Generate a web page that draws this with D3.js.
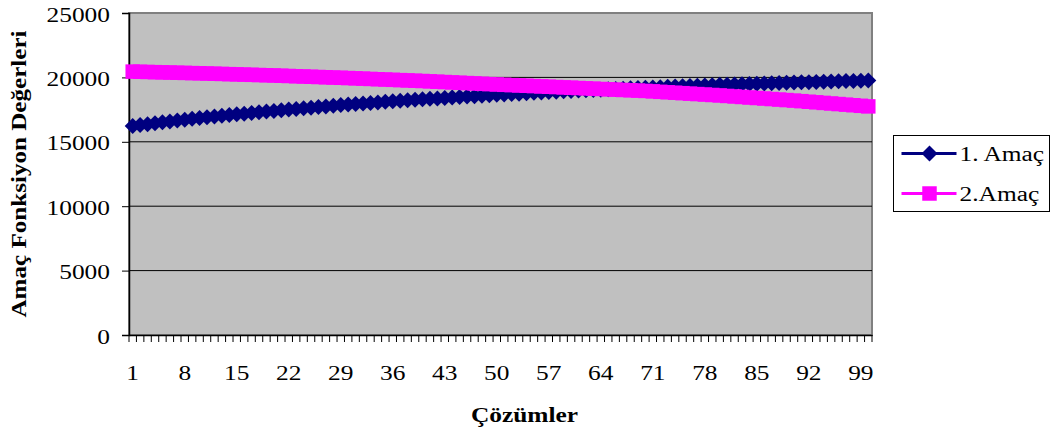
<!DOCTYPE html>
<html>
<head>
<meta charset="utf-8">
<script src="https://cdn.jsdelivr.net/npm/d3@7"></script>
<style>
  body { margin: 0; background: #fff; }
  svg { display: block; }
</style>
</head>
<body>
<div id="chart"></div>
<script>
// solution index 1..100
const categories = d3.range(1, 101);

// 1. Amaç
const amac1 = [
  16220, 16300, 16370, 16440, 16510, 16580, 16650, 16720, 16785, 16850,
  16910, 16965, 17020, 17075, 17130, 17185, 17240, 17295, 17350, 17400,
  17450, 17500, 17550, 17600, 17650, 17700, 17750, 17800, 17850, 17900,
  17940, 17980, 18020, 18060, 18100, 18140, 18180, 18220, 18260, 18300,
  18335, 18370, 18405, 18440, 18475, 18510, 18545, 18580, 18615, 18650,
  18680, 18710, 18740, 18770, 18800, 18830, 18860, 18890, 18920, 18950,
  18975, 19000, 19025, 19050, 19075, 19100, 19125, 19150, 19175, 19200,
  19222, 19244, 19266, 19288, 19310, 19332, 19354, 19376, 19398, 19420,
  19438, 19456, 19474, 19492, 19510, 19528, 19546, 19564, 19582, 19600,
  19616, 19632, 19648, 19664, 19680, 19696, 19712, 19728, 19744, 19760
];

// 2.Amaç
const amac2 = [
  20450, 20436, 20421, 20407, 20392, 20378, 20363, 20349, 20334, 20320,
  20303, 20286, 20269, 20252, 20235, 20218, 20201, 20184, 20167, 20150,
  20130, 20110, 20090, 20070, 20050, 20030, 20010, 19990, 19970, 19950,
  19927, 19904, 19881, 19858, 19835, 19812, 19789, 19766, 19743, 19720,
  19693, 19666, 19639, 19612, 19585, 19558, 19531, 19504, 19477, 19450,
  19425, 19400, 19375, 19350, 19325, 19300, 19275, 19250, 19225, 19200,
  19175, 19150, 19125, 19100, 19075, 19050, 19025, 19000, 18975, 18950,
  18915, 18880, 18845, 18810, 18775, 18740, 18705, 18670, 18635, 18600,
  18560, 18520, 18480, 18440, 18400, 18360, 18320, 18280, 18240, 18200,
  18155, 18110, 18065, 18020, 17975, 17930, 17885, 17840, 17795, 17750
];

const xTickLabels = [1, 8, 15, 22, 29, 36, 43, 50, 57, 64, 71, 78, 85, 92, 99];
const yTicks = [0, 5000, 10000, 15000, 20000, 25000];

const seriesNames = ['1. Amaç', '2.Amaç'];

class LineChart {

    constructor(_config) {
        this.config = {
            parentElement: _config.parentElement,
            containerWidth: _config.containerWidth || 1052,
            containerHeight: _config.containerHeight || 435,
            margin: { top: 13, bottom: 100, right: 180, left: 129 }
        }
        this.initVis();
    }

    // the reference text is drawn wider than normal, stretch it a bit
    stretch(sel, len) {
        sel.each(function () {
            const w = len || this.getComputedTextLength() * 1.27;
            d3.select(this).attr('textLength', w).attr('lengthAdjust', 'spacingAndGlyphs');
        });
    }

    initVis() {
        let vis = this;

        vis.width = vis.config.containerWidth - vis.config.margin.left - vis.config.margin.right;
        vis.height = vis.config.containerHeight - vis.config.margin.top - vis.config.margin.bottom;

        vis.svg = d3.select(vis.config.parentElement).append('svg')
            .attr('width', vis.config.containerWidth)
            .attr('height', vis.config.containerHeight)
            .style('font-family', '"Liberation Serif", "Times New Roman", serif');

        vis.xScale = d3.scaleBand()
            .domain(categories)
            .range([0, vis.width])
            .padding(0);

        vis.yScale = d3.scaleLinear()
            .domain([0, 25000])
            .range([vis.height, 0]);

        vis.chart = vis.svg.append('g')
            .attr('transform', `translate(${vis.config.margin.left}, ${vis.config.margin.top})`);

        // plot area
        vis.chart.append('rect')
            .attr('width', vis.width)
            .attr('height', vis.height)
            .attr('fill', '#c0c0c0')
            .attr('stroke', '#808080')
            .attr('stroke-width', 2);

        // gridlines
        vis.chart.append('g')
            .selectAll('line')
            .data(yTicks.filter(d => d > 0 && d < 25000))
            .join('line')
            .attr('x1', 0)
            .attr('x2', vis.width)
            .attr('y1', d => vis.yScale(d))
            .attr('y2', d => vis.yScale(d))
            .attr('stroke', '#000')
            .attr('stroke-width', 1);

        // y axis
        vis.yAxis = d3.axisLeft(vis.yScale)
            .tickValues(yTicks)
            .tickSize(7)
            .tickPadding(12)
            .tickFormat(d3.format('d'));

        vis.yAxisGroup = vis.chart.append('g')
            .attr('class', 'axis y-axis')
            .call(vis.yAxis);
        vis.yAxisGroup.attr('font-family', null).attr('font-size', 20);
        vis.yAxisGroup.selectAll('text').attr('dy', '0.4em').attr('fill', '#000').call(s => vis.stretch(s));
        vis.yAxisGroup.select('.domain').attr('stroke', '#000').attr('stroke-width', 1.5);

        // x axis: ticks on category boundaries
        vis.chart.append('g')
            .attr('transform', `translate(0, ${vis.height})`)
            .selectAll('line')
            .data(categories.concat(['end']))
            .join('line')
            .attr('x1', d => d === 'end' ? vis.width : vis.xScale(d))
            .attr('x2', d => d === 'end' ? vis.width : vis.xScale(d))
            .attr('y1', 0)
            .attr('y2', 7)
            .attr('stroke', '#000');

        vis.xAxis = d3.axisBottom(vis.xScale)
            .tickValues(xTickLabels)
            .tickSize(0)
            .tickPadding(31);

        vis.xAxisGroup = vis.chart.append('g')
            .attr('class', 'axis x-axis')
            .attr('transform', `translate(0, ${vis.height})`)
            .call(vis.xAxis);
        vis.xAxisGroup.attr('font-family', null).attr('font-size', 20);
        vis.xAxisGroup.selectAll('text').attr('fill', '#000').call(s => vis.stretch(s));
        vis.xAxisGroup.select('.domain').attr('stroke', '#000').attr('stroke-width', 1.5);

        vis.xPos = d => vis.xScale(d) + vis.xScale.bandwidth() / 2;

        vis.series = [
            { name: seriesNames[0], values: amac1, color: '#000080', shape: 'diamond' },
            { name: seriesNames[1], values: amac2, color: '#ff00ff', shape: 'square' }
        ];

        vis.diamond = d3.symbol(d3.symbolSquare, 128)();
        vis.square = d3.symbol(d3.symbolSquare, 210)();

        vis.line = d3.line()
            .x((d, i) => vis.xPos(categories[i]))
            .y(d => vis.yScale(d));

        vis.series.forEach(s => {
            const g = vis.chart.append('g');
            g.append('path')
                .attr('d', vis.line(s.values))
                .attr('fill', 'none')
                .attr('stroke', s.color)
                .attr('stroke-width', 3);
            g.selectAll('path.marker')
                .data(s.values)
                .join('path')
                .attr('class', 'marker')
                .attr('d', s.shape === 'diamond' ? vis.diamond : vis.square)
                .attr('transform', (d, i) => `translate(${vis.xPos(categories[i])}, ${vis.yScale(d)})` + (s.shape === 'diamond' ? ' rotate(45)' : ''))
                .attr('fill', s.color);
        });

        // axis titles
        vis.svg.append('text')
            .attr('text-anchor', 'middle')
            .attr('font-weight', 'bold')
            .attr('font-size', 20)
            .attr('transform', 'translate(26, 174) rotate(-90)')
            .text('Amaç Fonksiyon Değerleri')
            .call(s => vis.stretch(s, 287));

        vis.svg.append('text')
            .attr('text-anchor', 'middle')
            .attr('font-weight', 'bold')
            .attr('font-size', 20)
            .attr('x', vis.config.margin.left + vis.width / 2 + 24)
            .attr('y', 422)
            .text('Çözümler')
            .call(s => vis.stretch(s));

        // legend
        const legend = vis.svg.append('g')
            .attr('transform', 'translate(893.5, 135.5)');
        legend.append('rect')
            .attr('width', 156)
            .attr('height', 76)
            .attr('fill', '#fff')
            .attr('stroke', '#000')
            .attr('stroke-width', 1);
        vis.series.forEach((s, i) => {
            const item = legend.append('g').attr('transform', `translate(0, ${18 + i * 40})`);
            item.append('line')
                .attr('x1', 8).attr('x2', 63)
                .attr('stroke', s.color).attr('stroke-width', 3);
            item.append('path')
                .attr('d', s.shape === 'diamond' ? vis.diamond : vis.square)
                .attr('transform', 'translate(36, 0)' + (s.shape === 'diamond' ? ' rotate(45)' : ''))
                .attr('fill', s.color);
            item.append('text')
                .attr('x', 66)
                .attr('y', 7)
                .attr('font-size', 20)
                .text(s.name)
                .call(sel => vis.stretch(sel));
        });
    }
}

new LineChart({ parentElement: '#chart' });
</script>
</body>
</html>
